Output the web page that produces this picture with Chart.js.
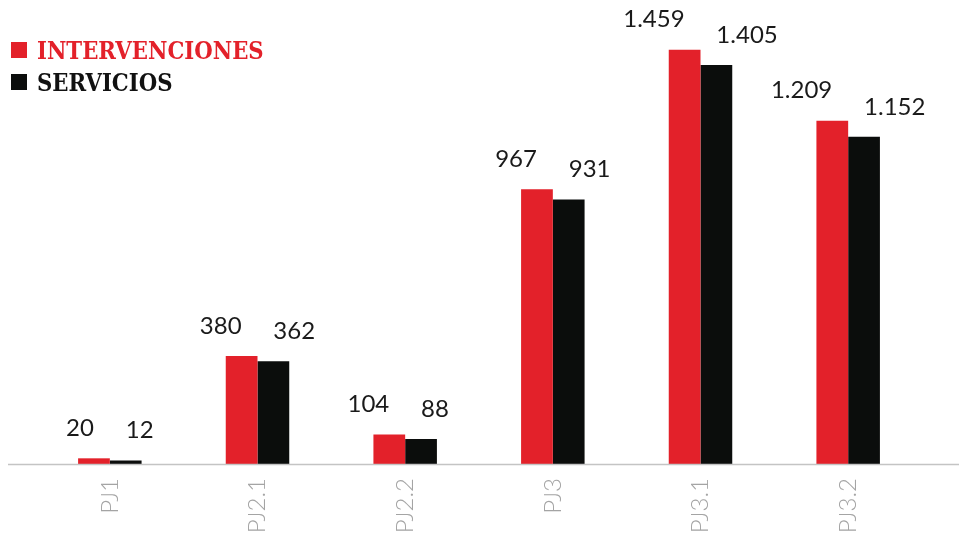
<!DOCTYPE html>
<html>
<head>
<meta charset="utf-8">
<script src="https://cdn.jsdelivr.net/npm/chart.js@4.4.1/dist/chart.umd.min.js"></script>
<style>
  html, body { margin: 0; padding: 0; background: #fff; }
  .wrap { position: relative; width: 959px; height: 536px; }
  .row { position: absolute; left: 11px; height: 32px; display: flex; align-items: center;
         font-family: "DejaVu Serif", serif; font-weight: bold; font-size: 25px; line-height: 1; white-space: nowrap; }
  .row .box { width: 16px; height: 16px; margin-right: 10px; flex: none; }
  .row .txt { display: inline-block; transform: scaleX(0.85); transform-origin: left center; }
</style>
</head>
<body>
<div class="wrap">
  <canvas id="chart" width="959" height="536"></canvas>
  <div class="row" style="top:34px;color:#e3212a"><span class="box" style="background:#e3212a"></span><span class="txt">INTERVENCIONES</span></div>
  <div class="row" style="top:66px;color:#111"><span class="box" style="background:#0b0d0c"></span><span class="txt">SERVICIOS</span></div>
</div>
<script>
// Intervenciones / Servicios por programa

const categories = ['PJ1', 'PJ2.1', 'PJ2.2', 'PJ3', 'PJ3.1', 'PJ3.2'];
const intervenciones = [20, 380, 104, 967, 1459, 1209];
const servicios = [12, 362, 88, 931, 1405, 1152];

const RED = '#e3212a';
const BLACK = '#0b0d0c';

// "1459" -> "1.459"
function fmt(v) {
  return v.toString().replace(/\B(?=(\d{3})+(?!\d))/g, '.');
}

// value labels: red ones end at the bar centre, black ones start there
const valueLabels = {
  id: 'valueLabels',
  afterDatasetsDraw(chart) {
    const ctx = chart.ctx;
    ctx.save();
    ctx.font = '400 24px Lato, sans-serif';
    ctx.fillStyle = '#1a1a1a';
    ctx.textBaseline = 'middle';
    chart.data.datasets.forEach((ds, i) => {
      const meta = chart.getDatasetMeta(i);
      ctx.textAlign = i === 0 ? 'right' : 'left';
      meta.data.forEach((bar, j) => {
        ctx.fillText(fmt(ds.data[j]), bar.x, bar.y - 30);
      });
    });
    ctx.restore();
  }
};

// thin grey baseline across the full width
const baseline = {
  id: 'baseline',
  afterDatasetsDraw(chart) {
    const ctx = chart.ctx;
    const y = chart.scales.y.getPixelForValue(0);
    ctx.save();
    ctx.strokeStyle = '#c4c4c4';
    ctx.lineWidth = 1.5;
    ctx.beginPath();
    ctx.moveTo(8, y + 0.5);
    ctx.lineTo(959, y + 0.5);
    ctx.stroke();
    ctx.restore();
  }
};

const ctx = document.getElementById('chart').getContext('2d');

new Chart(ctx, {
  type: 'bar',
  data: {
    labels: categories,
    datasets: [{
      label: 'INTERVENCIONES',
      data: intervenciones,
      backgroundColor: RED,
      categoryPercentage: 0.43,
      barPercentage: 1
    }, {
      label: 'SERVICIOS',
      data: servicios,
      backgroundColor: BLACK,
      categoryPercentage: 0.43,
      barPercentage: 1
    }]
  },
  options: {
    responsive: false,
    animation: false,
    layout: {
      padding: { left: 36, right: 37, top: 38, bottom: 0 }
    },
    plugins: {
      legend: { display: false },
      tooltip: { enabled: false }
    },
    scales: {
      x: {
        grid: { display: false, drawTicks: false },
        border: { display: false },
        ticks: {
          color: '#a4a4a4',
          font: { family: 'Lato, sans-serif', size: 24, weight: 300 },
          minRotation: 90,
          maxRotation: 90,
          padding: 14
        },
        afterFit(scale) {
          scale.height = 72;
        }
      },
      y: {
        display: false,
        min: 0,
        max: 1500
      }
    }
  },
  plugins: [valueLabels, baseline]
});
</script>
</body>
</html>
